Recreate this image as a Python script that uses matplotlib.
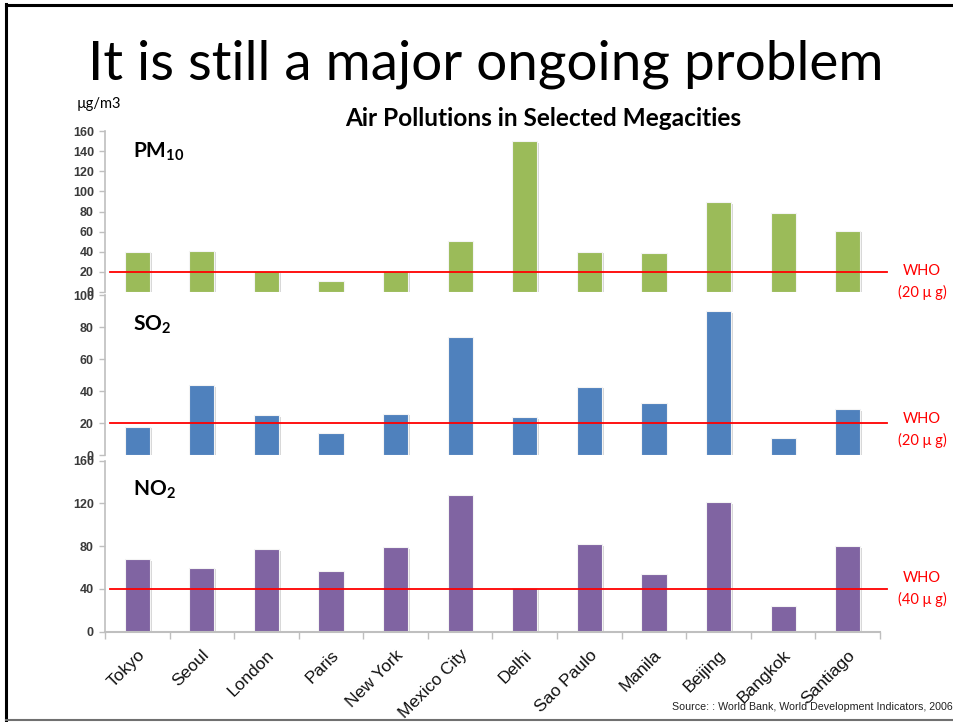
import matplotlib
matplotlib.use("Agg")
import matplotlib.pyplot as plt
import matplotlib.patheffects as pe
import matplotlib.transforms as mtransforms
import numpy as np

# Annual mean concentrations, µg/m3
cities = ["Tokyo", "Seoul", "London", "Paris", "New York", "Mexico City",
          "Delhi", "Sao Paulo", "Manila", "Beijing", "Bangkok", "Santiago"]
pm10 = [40, 41, 21, 11, 21, 51, 150, 40, 39, 89, 79, 61]
so2 = [18, 44, 25, 14, 26, 74, 24, 43, 33, 90, 11, 29]
no2 = [68, 60, 77, 57, 79, 128, 41, 82, 54, 121, 24, 80]

# WHO guideline values
who_pm10 = 20
who_so2 = 20
who_no2 = 40

pm10_ticks = [0, 20, 40, 60, 80, 100, 120, 140, 160]
so2_ticks = [0, 20, 40, 60, 80, 100]
no2_ticks = [0, 40, 80, 120, 160]

W, H = 954, 722
fig = plt.figure(figsize=(W / 100, H / 100), dpi=100)
fig.patch.set_facecolor("white")

plt.rcParams["mathtext.fontset"] = "custom"
plt.rcParams["mathtext.bf"] = "Lato:bold"
plt.rcParams["mathtext.rm"] = "Lato"

# slide frame
fig.add_artist(plt.Line2D([6 / W, 6 / W], [1 - 4 / H, 1 - 720 / H], color="black", lw=2.2,
                          transform=fig.transFigure))
fig.add_artist(plt.Line2D([6 / W, 1.01], [1 - 5 / H, 1 - 5 / H], color="black", lw=2.2,
                          transform=fig.transFigure))
fig.add_artist(plt.Line2D([6 / W, 1.01], [1 - 720 / H, 1 - 720 / H], color="#707070", lw=1.5,
                          transform=fig.transFigure))

fig.text(486 / W, 1 - 64 / H, "It is still a major ongoing problem", fontsize=39.5,
         family="Lato", ha="center", va="center", color="black")
fig.text(543 / W, 1 - 119 / H, "Air Pollutions in Selected Megacities", fontsize=17.6,
         family="Lato", fontweight="bold", ha="center", va="center")
fig.text(77 / W, 1 - 104 / H, "µg/m3", fontsize=10.5, family="Lato", ha="left", va="center")

left = 105 / W
width = (880 - 105) / W


def make_ax(top_px, bottom_px):
    return fig.add_axes([left, 1 - bottom_px / H, width, (bottom_px - top_px) / H])


ax1 = make_ax(131, 292)
ax2 = make_ax(295.3, 455.3)
ax3 = make_ax(460.7, 631.7)

x = np.arange(len(cities))
panels = [
    (ax1, pm10, "#9BBB59", pm10_ticks, who_pm10, r"$\mathbf{PM_{10}}$", 158),
    (ax2, so2, "#4F81BD", so2_ticks, who_so2, r"$\mathbf{SO_{2}}$", 331),
    (ax3, no2, "#8064A2", no2_ticks, who_no2, r"$\mathbf{NO_{2}}$", 496),
]

shadow = [pe.SimplePatchShadow(offset=(1.2, -1.2), shadow_rgbFace="#b0b0b0", alpha=0.5),
          pe.Normal()]

for ax, vals, color, ticks, who, label, lab_y in panels:
    ax.set_facecolor("none")
    bars = ax.bar(x, vals, width=0.39, color=color, edgecolor="#f4f4f4", linewidth=0.8,
                  zorder=2)
    for b in bars:
        b.set_path_effects(shadow)
    ax.set_xlim(-0.5, len(cities) - 0.5)
    ax.set_ylim(ticks[0], ticks[-1])
    ax.set_yticks(ticks)
    ax.tick_params(axis="y", length=4, width=1, color="#bfbfbf", labelsize=9,
                   labelcolor="#3a3a3a", pad=4)
    for t in ax.get_yticklabels():
        t.set_family("Liberation Sans")
        t.set_fontweight("bold")
    for s in ["top", "right", "bottom"]:
        ax.spines[s].set_visible(False)
    ax.spines["left"].set_color("#bfbfbf")
    ax.spines["left"].set_linewidth(1.2)
    ax.axhline(who, xmin=0.006, xmax=1.009, color="#FF0000", lw=1.3, zorder=3, clip_on=False)
    fig.text(133 / W, 1 - lab_y / H, label, fontsize=15, ha="left", va="baseline")
    ax.set_xticks([])

# guideline annotations
for y_top, txt in [(271, "(20 μ g)"), (419, "(20 μ g)"), (578, "(40 μ g)")]:
    fig.text(922 / W, 1 - y_top / H, "WHO", fontsize=10.5, family=["Lato", "DejaVu Sans"],
             color="#FF0000", ha="center", va="center")
    fig.text(922 / W, 1 - (y_top + 21) / H, txt, fontsize=10.5, family=["Lato", "DejaVu Sans"],
             color="#FF0000", ha="center", va="center")

# category axis on the bottom panel
ax3.spines["bottom"].set_visible(True)
ax3.spines["bottom"].set_color("#bfbfbf")
ax3.spines["bottom"].set_linewidth(1.5)
ax3.set_xticks(x)
ax3.set_xticks(np.arange(len(cities) + 1) - 0.5, minor=True)
ax3.tick_params(axis="x", which="major", length=0, pad=15)
ax3.tick_params(axis="x", which="minor", length=5, width=1, color="#bfbfbf")
ax3.set_xticklabels(cities, rotation=45, ha="right", va="center", rotation_mode="anchor",
                    fontsize=12.5, family="Liberation Sans", color="#111111")
shift = mtransforms.ScaledTranslation(5 / 100, 0, fig.dpi_scale_trans)
for t in ax3.get_xticklabels():
    t.set_transform(t.get_transform() + shift)

fig.text(672 / W, 1 - 707 / H, "Source: : World Bank, World Development Indicators, 2006",
         fontsize=7.7, family="Liberation Sans", ha="left", va="center", color="#222222")

fig.savefig("out.png", dpi=100, facecolor="white")
